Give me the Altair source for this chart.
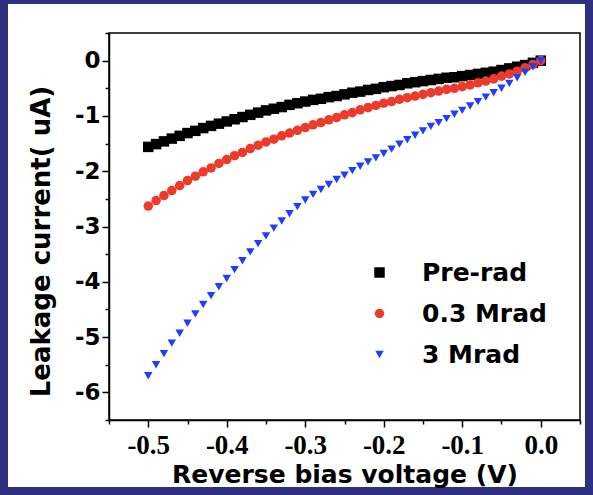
import altair as alt
import pandas as pd

# ---------------- data ----------------
voltage = [-0.50, -0.49, -0.48, -0.47, -0.46, -0.45, -0.44, -0.43, -0.42, -0.41,
           -0.40, -0.39, -0.38, -0.37, -0.36, -0.35, -0.34, -0.33, -0.32, -0.31,
           -0.30, -0.29, -0.28, -0.27, -0.26, -0.25, -0.24, -0.23, -0.22, -0.21,
           -0.20, -0.19, -0.18, -0.17, -0.16, -0.15, -0.14, -0.13, -0.12, -0.11,
           -0.10, -0.09, -0.08, -0.07, -0.06, -0.05, -0.04, -0.03, -0.02, -0.01,
           0.00]

pre_rad = [-1.56, -1.51, -1.46, -1.41, -1.36, -1.31, -1.27, -1.22, -1.18, -1.14,
           -1.10, -1.06, -1.02, -0.98, -0.94, -0.90, -0.87, -0.84, -0.80, -0.77,
           -0.74, -0.71, -0.69, -0.66, -0.64, -0.61, -0.58, -0.56, -0.53, -0.51,
           -0.48, -0.46, -0.44, -0.41, -0.39, -0.37, -0.35, -0.33, -0.31, -0.30,
           -0.28, -0.26, -0.24, -0.22, -0.20, -0.17, -0.14, -0.11, -0.08, -0.04,
           0.00]

mrad_03 = [-2.63, -2.53, -2.44, -2.35, -2.26, -2.17, -2.09, -2.01, -1.94, -1.86,
           -1.79, -1.72, -1.66, -1.59, -1.53, -1.47, -1.42, -1.36, -1.31, -1.26,
           -1.21, -1.16, -1.12, -1.07, -1.03, -0.98, -0.94, -0.89, -0.85, -0.81,
           -0.77, -0.74, -0.70, -0.67, -0.64, -0.61, -0.58, -0.55, -0.52, -0.50,
           -0.47, -0.44, -0.40, -0.37, -0.33, -0.28, -0.24, -0.19, -0.13, -0.07,
           0.00]

mrad_3 = [-5.70, -5.50, -5.30, -5.11, -4.93, -4.75, -4.58, -4.41, -4.25, -4.09,
          -3.94, -3.78, -3.62, -3.46, -3.31, -3.17, -3.03, -2.90, -2.77, -2.64,
          -2.52, -2.42, -2.33, -2.24, -2.15, -2.07, -1.99, -1.91, -1.83, -1.76,
          -1.68, -1.60, -1.51, -1.43, -1.35, -1.27, -1.19, -1.12, -1.05, -0.97,
          -0.90, -0.82, -0.74, -0.66, -0.58, -0.50, -0.41, -0.31, -0.21, -0.11,
          0.00]

series_names = ["Pre-rad", "0.3 Mrad", "3 Mrad"]
series_colors = ["#000000", "#ec3b2b", "#1f3dff"]
series_shapes = ["square", "circle", "triangle-down"]
series_sizes = [110, 72, 95]

x_major = [-0.5, -0.4, -0.3, -0.2, -0.1, 0.0]
x_minor = [-0.55, -0.45, -0.35, -0.25, -0.15, -0.05, 0.05]
y_major = [-6, -5, -4, -3, -2, -1, 0]
y_minor = [-6.5, -5.5, -4.5, -3.5, -2.5, -1.5, -0.5, 0.5]

rows = []
for name, vals in zip(series_names, [pre_rad, mrad_03, mrad_3]):
    for v, c in zip(voltage, vals):
        rows.append({"V": v, "I": c, "series": name})
df = pd.DataFrame(rows)

# ---------------- styling ----------------
W, H = 471, 387
NAVY = "#2f3180"
SANS = "DejaVu Sans"
MINUS = "\u2212"

xscale = alt.Scale(domain=[-0.55, 0.05], nice=False, zero=False)
yscale = alt.Scale(domain=[-6.5, 0.5], nice=False, zero=False)

x_axis_major = alt.Axis(
    orient="bottom", values=x_major, grid=False, zindex=2,
    labelExpr=f"replace(format(datum.value, '.1f'), '{MINUS}', '-')",
    labelFont="Liberation Serif", labelFontWeight="bold", labelFontSize=27,
    labelColor="black", labelPadding=5, labelFlush=False, labelOverlap=False,
    tickSize=7, tickWidth=1.5, tickColor="black",
    domainColor="black", domainWidth=1.5,
    title="Reverse bias voltage (V)", titleFont=SANS, titleFontWeight="bold",
    titleFontSize=25, titleColor="black", titleBaseline="alphabetic",
    titleY=62,
)
y_axis_major = alt.Axis(
    orient="left", values=y_major, grid=False, zindex=2,
    labelExpr=f"replace(format(datum.value, 'd'), '{MINUS}', '-')",
    labelFont=SANS, labelFontWeight="bold", labelFontSize=23,
    labelColor="black", labelPadding=2, labelFlush=False, labelOverlap=False,
    tickSize=7, tickWidth=1.5, tickColor="black",
    domainColor="black", domainWidth=1.5,
    title="Leakage current( uA)", titleFont=SANS, titleFontWeight="bold",
    titleFontSize=26, titleColor="black", titleBaseline="alphabetic",
    titleX=-60, titleY=208, titleAngle=270,
)
x_axis_minor = alt.Axis(
    orient="bottom", values=x_minor, grid=False, zindex=2, labels=False,
    domain=False, title=None, tickSize=4, tickWidth=1.5, tickColor="black",
)
y_axis_minor = alt.Axis(
    orient="left", values=y_minor, grid=False, zindex=2, labels=False,
    domain=False, title=None, tickSize=4, tickWidth=1.5, tickColor="black",
)

panel = alt.Chart(alt.Data(values=[{"p": 1}])).mark_rect(
    fill="white", stroke=None
).encode(
    x=alt.value(-101), x2=alt.value(476), y=alt.value(-29), y2=alt.value(454)
)

legend = alt.Legend(
    title=None, orient="none", legendX=258, legendY=227, padding=0,
    labelFont=SANS, labelFontWeight="bold", labelFontSize=25,
    labelColor="black", labelOffset=30, rowPadding=15, symbolSize=60,
    symbolStrokeWidth=0,
)

points = alt.Chart(df).mark_point(filled=True, opacity=1).encode(
    x=alt.X("V:Q", scale=xscale, axis=x_axis_major),
    y=alt.Y("I:Q", scale=yscale, axis=y_axis_major),
    color=alt.Color("series:N", scale=alt.Scale(domain=series_names, range=series_colors), legend=legend),
    shape=alt.Shape("series:N", scale=alt.Scale(domain=series_names, range=series_shapes), legend=legend),
    size=alt.Size("series:N", scale=alt.Scale(domain=series_names, range=series_sizes), legend=None),
)

minor = alt.Chart(df).mark_point(opacity=0).encode(
    x=alt.X("V:Q", scale=xscale, axis=x_axis_minor),
    y=alt.Y("I:Q", scale=yscale, axis=y_axis_minor),
)

frame = alt.Chart(alt.Data(values=[{"p": 1}])).mark_rect(
    fill=None, stroke="black", strokeWidth=1.5
).encode(
    x=alt.value(0), x2=alt.value(W), y=alt.value(0), y2=alt.value(H)
)

chart = alt.layer(panel, points, minor, frame).resolve_axis(
    x="independent", y="independent"
).properties(
    width=W, height=H,
    background=NAVY,
    autosize=alt.AutoSizeParams(type="none"),
    padding={"left": 109, "top": 33, "right": 13, "bottom": 75},
).configure_view(stroke=None)

chart.save("out.html", embed_options={"renderer": "svg", "actions": False})
